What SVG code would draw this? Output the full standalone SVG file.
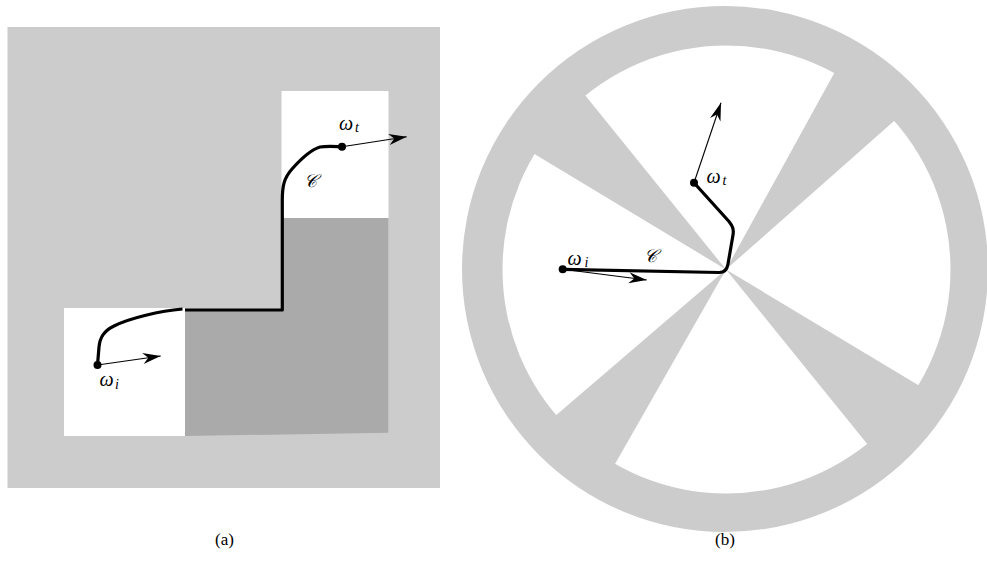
<svg xmlns="http://www.w3.org/2000/svg" width="987" height="570" viewBox="0 0 987 570">
  <style>
    .light { fill: #cccccc; }
    .dark { fill: #aaaaaa; }
    .white { fill: #ffffff; }
    .curve { fill: none; stroke: #000; stroke-width: 3.2; stroke-linejoin: round; stroke-linecap: butt; }
    .vec { fill: none; stroke: #000; stroke-width: 1.1; marker-end: url(#stealth); }
    .dot { fill: #000; }
    text { font-family: 'Liberation Serif', 'DejaVu Serif', serif; fill: #000; }
    .m { font-style: italic; }
  </style>
  <defs>
    <marker id="stealth" viewBox="-19 -6 20 12" refX="0" refY="0" markerWidth="20" markerHeight="12" markerUnits="userSpaceOnUse" orient="auto">
      <path d="M -18 -5.5 L 0 0 L -18 5.5 L -12.5 0 Z" fill="#000"/>
    </marker>
  </defs>
  <rect width="987" height="570" fill="#ffffff"/>

  <!-- Panel (a) -->
  <g id="panel-a">
    <rect class="light" x="7.5" y="27" width="432.5" height="461"/>
    <rect class="white" x="64" y="308" width="121" height="128"/>
    <rect class="white" x="281.5" y="91" width="107" height="127"/>
    <polygon class="dark" points="185,309.5 282,309.5 282,218 388.3,218 388.3,432.7 185,436"/>
  </g>

  <!-- Panel (b) -->
  <g id="panel-b">
    <ellipse class="light" cx="725" cy="269" rx="263" ry="263"/>
    <circle class="white" cx="726.5" cy="269.5" r="224"/>
    <polygon class="light" points="726,269.5 844.2,54.9 909.6,107.3"/>
    <polygon class="light" points="726,269.5 936.0,395.7 880.2,459.9"/>
    <polygon class="light" points="726,269.5 604.6,482.3 540.0,428.9"/>
    <polygon class="light" points="726,269.5 516.2,143.0 572.0,79.0"/>
  </g>

  <!-- Connectors -->
  <g id="connectors">
    <path class="curve" d="M 182.5 309 C 160 311, 130 318, 114 326 C 104 331, 100 337, 99 347 L 97.5 365"/>
    <path class="curve" d="M 185 310 L 282.3 310 L 282.3 200 C 282.3 186, 284 178, 292 169 C 300 160, 310 150, 320 147 C 326 146, 334 146.5, 342 146.7"/>
    <line class="vec" x1="97.5" y1="365" x2="160.7" y2="356"/>
    <line class="vec" x1="342" y1="146.7" x2="406.7" y2="136.7"/>
    <path class="curve" d="M 562.7 269.3 L 719 272.5 C 724.5 272.6, 727 270, 728 264 L 733 235 C 734 229, 732.5 226, 729 221.5 L 694 182.7"/>
    <line class="vec" x1="562.7" y1="269.3" x2="646.7" y2="280"/>
    <line class="vec" x1="694" y1="182.7" x2="721" y2="102.7"/>
  </g>

  <!-- Nodes (points and labels) -->
  <g id="omega-i-a">
    <circle class="dot" cx="97.5" cy="365" r="4"/>
    <text class="m" x="99.5" y="385.5" font-size="20">ω</text>
    <text class="m" x="115" y="388.5" font-size="14">i</text>
  </g>
  <g id="omega-t-a">
    <circle class="dot" cx="342" cy="146.7" r="4"/>
    <text class="m" x="339" y="129.8" font-size="20">ω</text>
    <text class="m" x="355" y="131.8" font-size="14">t</text>
  </g>
  <g id="curve-label-a">
    <text class="m" x="304" y="187" font-size="18">𝒞</text>
  </g>
  <g id="omega-i-b">
    <circle class="dot" cx="562.7" cy="269.3" r="4"/>
    <text class="m" x="567.5" y="265.3" font-size="20">ω</text>
    <text class="m" x="584.5" y="267.3" font-size="14">i</text>
  </g>
  <g id="omega-t-b">
    <circle class="dot" cx="694" cy="182.7" r="4"/>
    <text class="m" x="706.5" y="183" font-size="20">ω</text>
    <text class="m" x="722.5" y="184.5" font-size="14">t</text>
  </g>
  <g id="curve-label-b">
    <text class="m" x="644" y="262" font-size="18">𝒞</text>
  </g>

  <g id="captions">
    <text x="224.5" y="545" font-size="17" text-anchor="middle">(a)</text>
    <text x="725" y="545" font-size="17" text-anchor="middle">(b)</text>
  </g>
</svg>
